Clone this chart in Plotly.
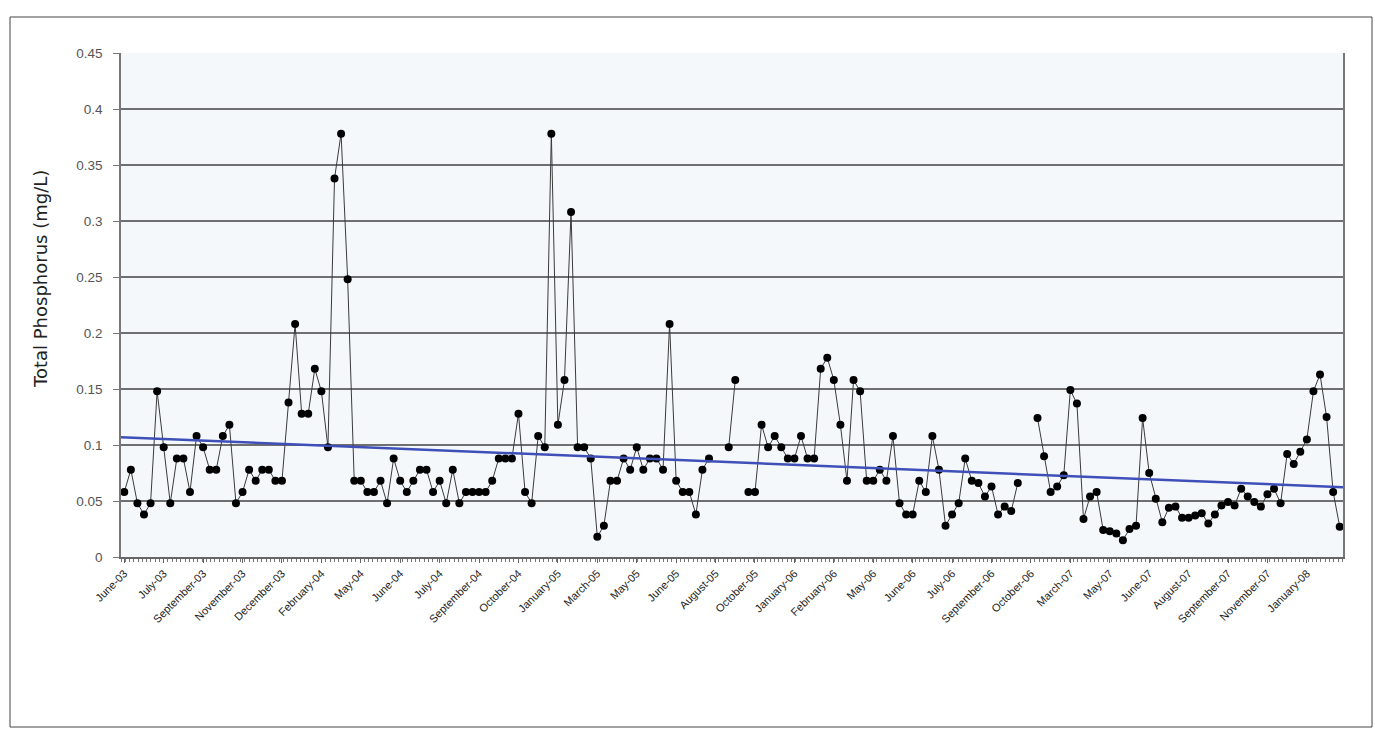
import numpy as np
import plotly.graph_objects as go

tick_labels = ["June-03", "July-03", "September-03", "November-03", "December-03",
               "February-04", "May-04", "June-04", "July-04", "September-04",
               "October-04", "January-05", "March-05", "May-05", "June-05",
               "August-05", "October-05", "January-06", "February-06", "May-06",
               "June-06", "July-06", "September-06", "October-06", "March-07",
               "May-07", "June-07", "August-07", "September-07", "November-07",
               "January-08"]

phosphorus = [
    0.058, 0.078, 0.048, 0.038, 0.048, 0.148, 0.098, 0.048, 0.088, 0.088,
    0.058, 0.108, 0.098, 0.078, 0.078, 0.108, 0.118, 0.048, 0.058, 0.078,
    0.068, 0.078, 0.078, 0.068, 0.068, 0.138, 0.208, 0.128, 0.128, 0.168,
    0.148, 0.098, 0.338, 0.378, 0.248, 0.068, 0.068, 0.058, 0.058, 0.068,
    0.048, 0.088, 0.068, 0.058, 0.068, 0.078, 0.078, 0.058, 0.068, 0.048,
    0.078, 0.048, 0.058, 0.058, 0.058, 0.058, 0.068, 0.088, 0.088, 0.088,
    0.128, 0.058, 0.048, 0.108, 0.098, 0.378, 0.118, 0.158, 0.308, 0.098,
    0.098, 0.088, 0.018, 0.028, 0.068, 0.068, 0.088, 0.078, 0.098, 0.078,
    0.088, 0.088, 0.078, 0.208, 0.068, 0.058, 0.058, 0.038, 0.078, 0.088,
    None, None, 0.098, 0.158, None, 0.058, 0.058, 0.118, 0.098, 0.108,
    0.098, 0.088, 0.088, 0.108, 0.088, 0.088, 0.168, 0.178, 0.158, 0.118,
    0.068, 0.158, 0.148, 0.068, 0.068, 0.078, 0.068, 0.108, 0.048, 0.038,
    0.038, 0.068, 0.058, 0.108, 0.078, 0.028, 0.038, 0.048, 0.088, 0.068,
    0.066, 0.054, 0.063, 0.038, 0.045, 0.041, 0.066, None, None, 0.124,
    0.090, 0.058, 0.063, 0.073, 0.149, 0.137, 0.034, 0.054, 0.058, 0.024,
    0.023, 0.021, 0.015, 0.025, 0.028, 0.124, 0.075, 0.052, 0.031, 0.044,
    0.045, 0.035, 0.035, 0.037, 0.039, 0.030, 0.038, 0.046, 0.049, 0.046,
    0.061, 0.054, 0.049, 0.045, 0.056, 0.061, 0.048, 0.092, 0.083, 0.094,
    0.105, 0.148, 0.163, 0.125, 0.058, 0.027,
]

y_title = "Total Phosphorus (mg/L)"
label_every = 6
n = len(phosphorus)
x_idx = list(range(n))

# Linear trend (least squares over available samples)
xs = np.array([i for i, v in zip(x_idx, phosphorus) if v is not None], dtype=float)
ys = np.array([v for v in phosphorus if v is not None], dtype=float)
slope, intercept = np.polyfit(xs, ys, 1)
trend_x = [-0.5, n - 0.5]
trend_y = [intercept + slope * t for t in trend_x]

fig = go.Figure()
fig.add_trace(go.Scatter(
    x=x_idx, y=phosphorus, mode="lines+markers",
    line=dict(color="#3a3a3a", width=1),
    marker=dict(color="black", size=8, symbol="circle"),
    connectgaps=False, showlegend=False,
))
fig.add_trace(go.Scatter(
    x=trend_x, y=trend_y, mode="lines",
    line=dict(color="#3f4fb8", width=2.5),
    showlegend=False, hoverinfo="skip",
))

W, H = 1375, 731
L, T, R, B = 121, 53, 32, 174
pw, ph = W - L - R, H - T - B

def px_to_paper_x(px):
    return (px - L) / pw

def px_to_paper_y(py):
    return (H - B - py) / ph

fig.update_layout(
    width=W, height=H,
    margin=dict(l=L, r=R, t=T, b=B),
    paper_bgcolor="white",
    plot_bgcolor="#f5f8fb",
    font=dict(family="Liberation Sans, Arial, sans-serif", color="#333333"),
    shapes=[dict(type="rect", xref="paper", yref="paper",
                 x0=px_to_paper_x(10), x1=px_to_paper_x(1372),
                 y0=px_to_paper_y(727), y1=px_to_paper_y(17),
                 line=dict(color="#444444", width=1), fillcolor="rgba(0,0,0,0)")],
    annotations=[dict(text=y_title, textangle=-90, xref="paper", yref="paper",
                      x=px_to_paper_x(40), y=px_to_paper_y(279),
                      xanchor="center", yanchor="middle", showarrow=False,
                      font=dict(family="DejaVu Sans, sans-serif", size=18, color="#222222"))],
)

fig.update_xaxes(
    range=[-0.5, n - 0.5],
    tickmode="array",
    tickvals=list(range(0, n, label_every))[:len(tick_labels)],
    ticktext=tick_labels,
    tickangle=-45,
    tickfont=dict(size=11, color="#222222"),
    showgrid=False, zeroline=False,
    showline=True, linecolor="#666666", linewidth=1.5,
    ticks="outside", ticklen=4, tickcolor="#666666",
    minor=dict(dtick=0.65, tick0=-0.5, ticks="outside", ticklen=3, tickcolor="#777777", showgrid=False),
)
fig.update_yaxes(
    range=[0, 0.45],
    tickvals=[0, 0.05, 0.1, 0.15, 0.2, 0.25, 0.3, 0.35, 0.4, 0.45],
    ticktext=["0", "0.05", "0.1", "0.15", "0.2", "0.25", "0.3", "0.35", "0.4", "0.45"],
    tickfont=dict(size=13.5, color="#555555"),
    ticklabelstandoff=8,
    showgrid=True, gridcolor="#6f6f6f", gridwidth=1.5,
    zeroline=False,
    showline=True, linecolor="#777777", linewidth=1.5, mirror=True,
    ticks="outside", ticklen=6, tickcolor="#777777",
)

fig.write_html(
    "out.html",
    config={"displayModeBar": False},
    post_script="document.body.style.margin='0';document.body.style.overflow='hidden';",
)
